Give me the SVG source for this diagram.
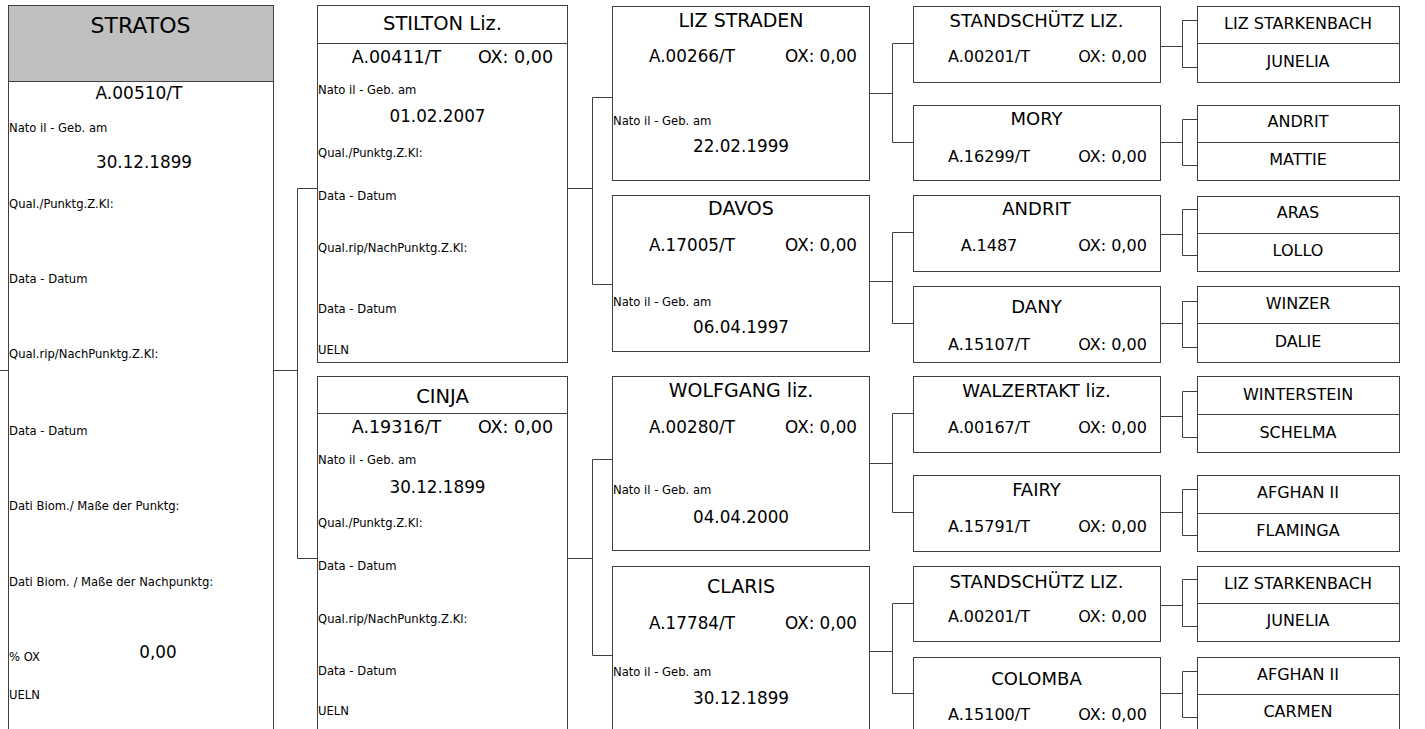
<svg xmlns="http://www.w3.org/2000/svg" width="1425" height="729" viewBox="0 0 1425 729">
<style>
text{font-family:"DejaVu Sans","Liberation Sans",sans-serif;fill:#000}
.b{fill:#fff;stroke:#404040;stroke-width:1}
.ln{fill:none;stroke:#404040;stroke-width:1}
.s{font-size:11.6px}
.m{font-size:16.8px;text-anchor:middle}
.t2{font-size:19.5px;text-anchor:middle}
.t3{font-size:19px;text-anchor:middle}
.t4{font-size:18px;text-anchor:middle}
.t5{font-size:16px;text-anchor:middle}
.i4{font-size:16px;text-anchor:middle}
</style>
<rect width="1425" height="729" fill="#fff"/>
<g id="connectors">
<path class="ln" d="M0,370.5H8.5M273.5,370.5H297.5M317.5,188.5H297.5V558.5H317.5"/>
<path class="ln" d="M567.5,188.5H592.5M612.5,97.5H592.5V284.5H612.5M567.5,558.5H592.5M612.5,459.5H592.5V655.5H612.5"/>
<path class="ln" d="M869.5,93.5H892.5M913.5,43.5H892.5V142.5H913.5M869.5,281.5H892.5M913.5,232.5H892.5V323.5H913.5M869.5,463.5H892.5M913.5,413.5H892.5V512.5H913.5M869.5,651.5H892.5M913.5,603.5H892.5V693.5H913.5"/>
<path class="ln" d="M1160.5,46.5H1182.5M1197.5,20.5H1182.5V67.5H1197.5M1160.5,142.5H1182.5M1197.5,119.5H1182.5V165.5H1197.5M1160.5,234.5H1182.5M1197.5,209.5H1182.5V255.5H1197.5M1160.5,323.5H1182.5M1197.5,301.5H1182.5V347.5H1197.5M1160.5,416.5H1182.5M1197.5,391.5H1182.5V437.5H1197.5M1160.5,512.5H1182.5M1197.5,489.5H1182.5V535.5H1197.5M1160.5,605.5H1182.5M1197.5,579.5H1182.5V626.5H1197.5M1160.5,693.5H1182.5M1197.5,671.5H1182.5V717.5H1197.5"/>
</g>
<g id="stratos">
<rect class="b" x="8.5" y="5.5" width="265" height="740"/>
<rect x="8.5" y="5.5" width="265" height="76" fill="#c0c0c0" stroke="#404040"/>
<text x="140.5" y="33" style="font-size:22px;text-anchor:middle">STRATOS</text>
<text class="m" x="139" y="99" style="font-size:17px">A.00510/T</text>
<text class="s" x="9" y="132">Nato il - Geb. am</text>
<text class="m" x="144" y="168">30.12.1899</text>
<text class="s" x="9" y="208">Qual./Punktg.Z.Kl:</text>
<text class="s" x="9" y="283">Data - Datum</text>
<text class="s" x="9" y="358">Qual.rip/NachPunktg.Z.Kl:</text>
<text class="s" x="9" y="435">Data - Datum</text>
<text class="s" x="9" y="510">Dati Biom./ Maße der Punktg:</text>
<text class="s" x="9" y="586">Dati Biom. / Maße der Nachpunktg:</text>
<text class="s" x="9" y="661">% OX</text>
<text class="m" x="158" y="658">0,00</text>
<text class="s" x="9" y="699">UELN</text>
</g>
<g id="stilton">
<rect class="b" x="317.5" y="5.5" width="250" height="357"/>
<path class="ln" d="M317.5,43.5H567.5"/>
<text class="t2" x="442.5" y="30">STILTON Liz.</text>
<text class="m" x="396.5" y="63" style="font-size:17.5px">A.00411/T</text>
<text class="m" x="515.5" y="63" style="font-size:17.5px">OX: 0,00</text>
<text class="s" x="318" y="94">Nato il - Geb. am</text>
<text class="m" x="437.5" y="122">01.02.2007</text>
<text class="s" x="318" y="157">Qual./Punktg.Z.Kl:</text>
<text class="s" x="318" y="200">Data - Datum</text>
<text class="s" x="318" y="252">Qual.rip/NachPunktg.Z.Kl:</text>
<text class="s" x="318" y="313">Data - Datum</text>
<text class="s" x="318" y="354">UELN</text>
</g>
<g id="cinja">
<rect class="b" x="317.5" y="376.5" width="250" height="400"/>
<path class="ln" d="M317.5,413.5H567.5"/>
<text class="t2" x="442.5" y="403">CINJA</text>
<text class="m" x="396.5" y="433" style="font-size:17.5px">A.19316/T</text>
<text class="m" x="515.5" y="433" style="font-size:17.5px">OX: 0,00</text>
<text class="s" x="318" y="464">Nato il - Geb. am</text>
<text class="m" x="437.5" y="493">30.12.1899</text>
<text class="s" x="318" y="527">Qual./Punktg.Z.Kl:</text>
<text class="s" x="318" y="570">Data - Datum</text>
<text class="s" x="318" y="623">Qual.rip/NachPunktg.Z.Kl:</text>
<text class="s" x="318" y="675">Data - Datum</text>
<text class="s" x="318" y="715">UELN</text>
</g>
<g id="liz-straden">
<rect class="b" x="612.5" y="6.5" width="257" height="174"/>
<text class="t3" x="741" y="27">LIZ STRADEN</text>
<text class="m" x="692" y="62">A.00266/T</text>
<text class="m" x="821" y="62">OX: 0,00</text>
<text class="s" x="613" y="125">Nato il - Geb. am</text>
<text class="m" x="741" y="152">22.02.1999</text>
</g>
<g id="davos">
<rect class="b" x="612.5" y="195.5" width="257" height="156"/>
<text class="t3" x="741" y="215">DAVOS</text>
<text class="m" x="692" y="251">A.17005/T</text>
<text class="m" x="821" y="251">OX: 0,00</text>
<text class="s" x="613" y="306">Nato il - Geb. am</text>
<text class="m" x="741" y="333">06.04.1997</text>
</g>
<g id="wolfgang">
<rect class="b" x="612.5" y="376.5" width="257" height="174"/>
<text class="t3" x="741" y="397">WOLFGANG liz.</text>
<text class="m" x="692" y="433">A.00280/T</text>
<text class="m" x="821" y="433">OX: 0,00</text>
<text class="s" x="613" y="494">Nato il - Geb. am</text>
<text class="m" x="741" y="523">04.04.2000</text>
</g>
<g id="claris">
<rect class="b" x="612.5" y="566.5" width="257" height="200"/>
<text class="t3" x="741" y="593">CLARIS</text>
<text class="m" x="692" y="629">A.17784/T</text>
<text class="m" x="821" y="629">OX: 0,00</text>
<text class="s" x="613" y="676">Nato il - Geb. am</text>
<text class="m" x="741" y="704">30.12.1899</text>
</g>
<g id="standschuetz-1">
<rect class="b" x="913.5" y="6.5" width="247" height="76"/>
<text class="t4" x="1036.5" y="27">STANDSCHÜTZ LIZ.</text>
<text class="i4" x="989" y="62">A.00201/T</text>
<text class="i4" x="1112.5" y="62">OX: 0,00</text>
</g>
<g id="mory">
<rect class="b" x="913.5" y="105.5" width="247" height="75"/>
<text class="t4" x="1036.5" y="125">MORY</text>
<text class="i4" x="989" y="162">A.16299/T</text>
<text class="i4" x="1112.5" y="162">OX: 0,00</text>
</g>
<g id="andrit">
<rect class="b" x="913.5" y="195.5" width="247" height="76"/>
<text class="t4" x="1036.5" y="215">ANDRIT</text>
<text class="i4" x="989" y="251">A.1487</text>
<text class="i4" x="1112.5" y="251">OX: 0,00</text>
</g>
<g id="dany">
<rect class="b" x="913.5" y="286.5" width="247" height="76"/>
<text class="t4" x="1036.5" y="313">DANY</text>
<text class="i4" x="989" y="350">A.15107/T</text>
<text class="i4" x="1112.5" y="350">OX: 0,00</text>
</g>
<g id="walzertakt">
<rect class="b" x="913.5" y="376.5" width="247" height="76"/>
<text class="t4" x="1036.5" y="397">WALZERTAKT liz.</text>
<text class="i4" x="989" y="433">A.00167/T</text>
<text class="i4" x="1112.5" y="433">OX: 0,00</text>
</g>
<g id="fairy">
<rect class="b" x="913.5" y="475.5" width="247" height="76"/>
<text class="t4" x="1036.5" y="496">FAIRY</text>
<text class="i4" x="989" y="532">A.15791/T</text>
<text class="i4" x="1112.5" y="532">OX: 0,00</text>
</g>
<g id="standschuetz-2">
<rect class="b" x="913.5" y="566.5" width="247" height="75"/>
<text class="t4" x="1036.5" y="588">STANDSCHÜTZ LIZ.</text>
<text class="i4" x="989" y="622">A.00201/T</text>
<text class="i4" x="1112.5" y="622">OX: 0,00</text>
</g>
<g id="colomba">
<rect class="b" x="913.5" y="657.5" width="247" height="100"/>
<text class="t4" x="1036.5" y="685">COLOMBA</text>
<text class="i4" x="989" y="720">A.15100/T</text>
<text class="i4" x="1112.5" y="720">OX: 0,00</text>
</g>
<g id="gp-1">
<rect class="b" x="1197.5" y="6.5" width="202" height="76"/>
<path class="ln" d="M1197.5,43.5H1399.5"/>
<text class="t5" x="1298" y="29">LIZ STARKENBACH</text>
<text class="t5" x="1298" y="67">JUNELIA</text>
</g>
<g id="gp-2">
<rect class="b" x="1197.5" y="105.5" width="202" height="75"/>
<path class="ln" d="M1197.5,142.5H1399.5"/>
<text class="t5" x="1298" y="127">ANDRIT</text>
<text class="t5" x="1298" y="165">MATTIE</text>
</g>
<g id="gp-3">
<rect class="b" x="1197.5" y="196.5" width="202" height="75"/>
<path class="ln" d="M1197.5,233.5H1399.5"/>
<text class="t5" x="1298" y="218">ARAS</text>
<text class="t5" x="1298" y="256">LOLLO</text>
</g>
<g id="gp-4">
<rect class="b" x="1197.5" y="286.5" width="202" height="76"/>
<path class="ln" d="M1197.5,323.5H1399.5"/>
<text class="t5" x="1298" y="309">WINZER</text>
<text class="t5" x="1298" y="347">DALIE</text>
</g>
<g id="gp-5">
<rect class="b" x="1197.5" y="376.5" width="202" height="76"/>
<path class="ln" d="M1197.5,414.5H1399.5"/>
<text class="t5" x="1298" y="400">WINTERSTEIN</text>
<text class="t5" x="1298" y="438">SCHELMA</text>
</g>
<g id="gp-6">
<rect class="b" x="1197.5" y="475.5" width="202" height="76"/>
<path class="ln" d="M1197.5,513.5H1399.5"/>
<text class="t5" x="1298" y="498">AFGHAN II</text>
<text class="t5" x="1298" y="536">FLAMINGA</text>
</g>
<g id="gp-7">
<rect class="b" x="1197.5" y="566.5" width="202" height="75"/>
<path class="ln" d="M1197.5,603.5H1399.5"/>
<text class="t5" x="1298" y="589">LIZ STARKENBACH</text>
<text class="t5" x="1298" y="626">JUNELIA</text>
</g>
<g id="gp-8">
<rect class="b" x="1197.5" y="657.5" width="202" height="100"/>
<path class="ln" d="M1197.5,694.5H1399.5"/>
<text class="t5" x="1298" y="680">AFGHAN II</text>
<text class="t5" x="1298" y="717">CARMEN</text>
</g>
</svg>
